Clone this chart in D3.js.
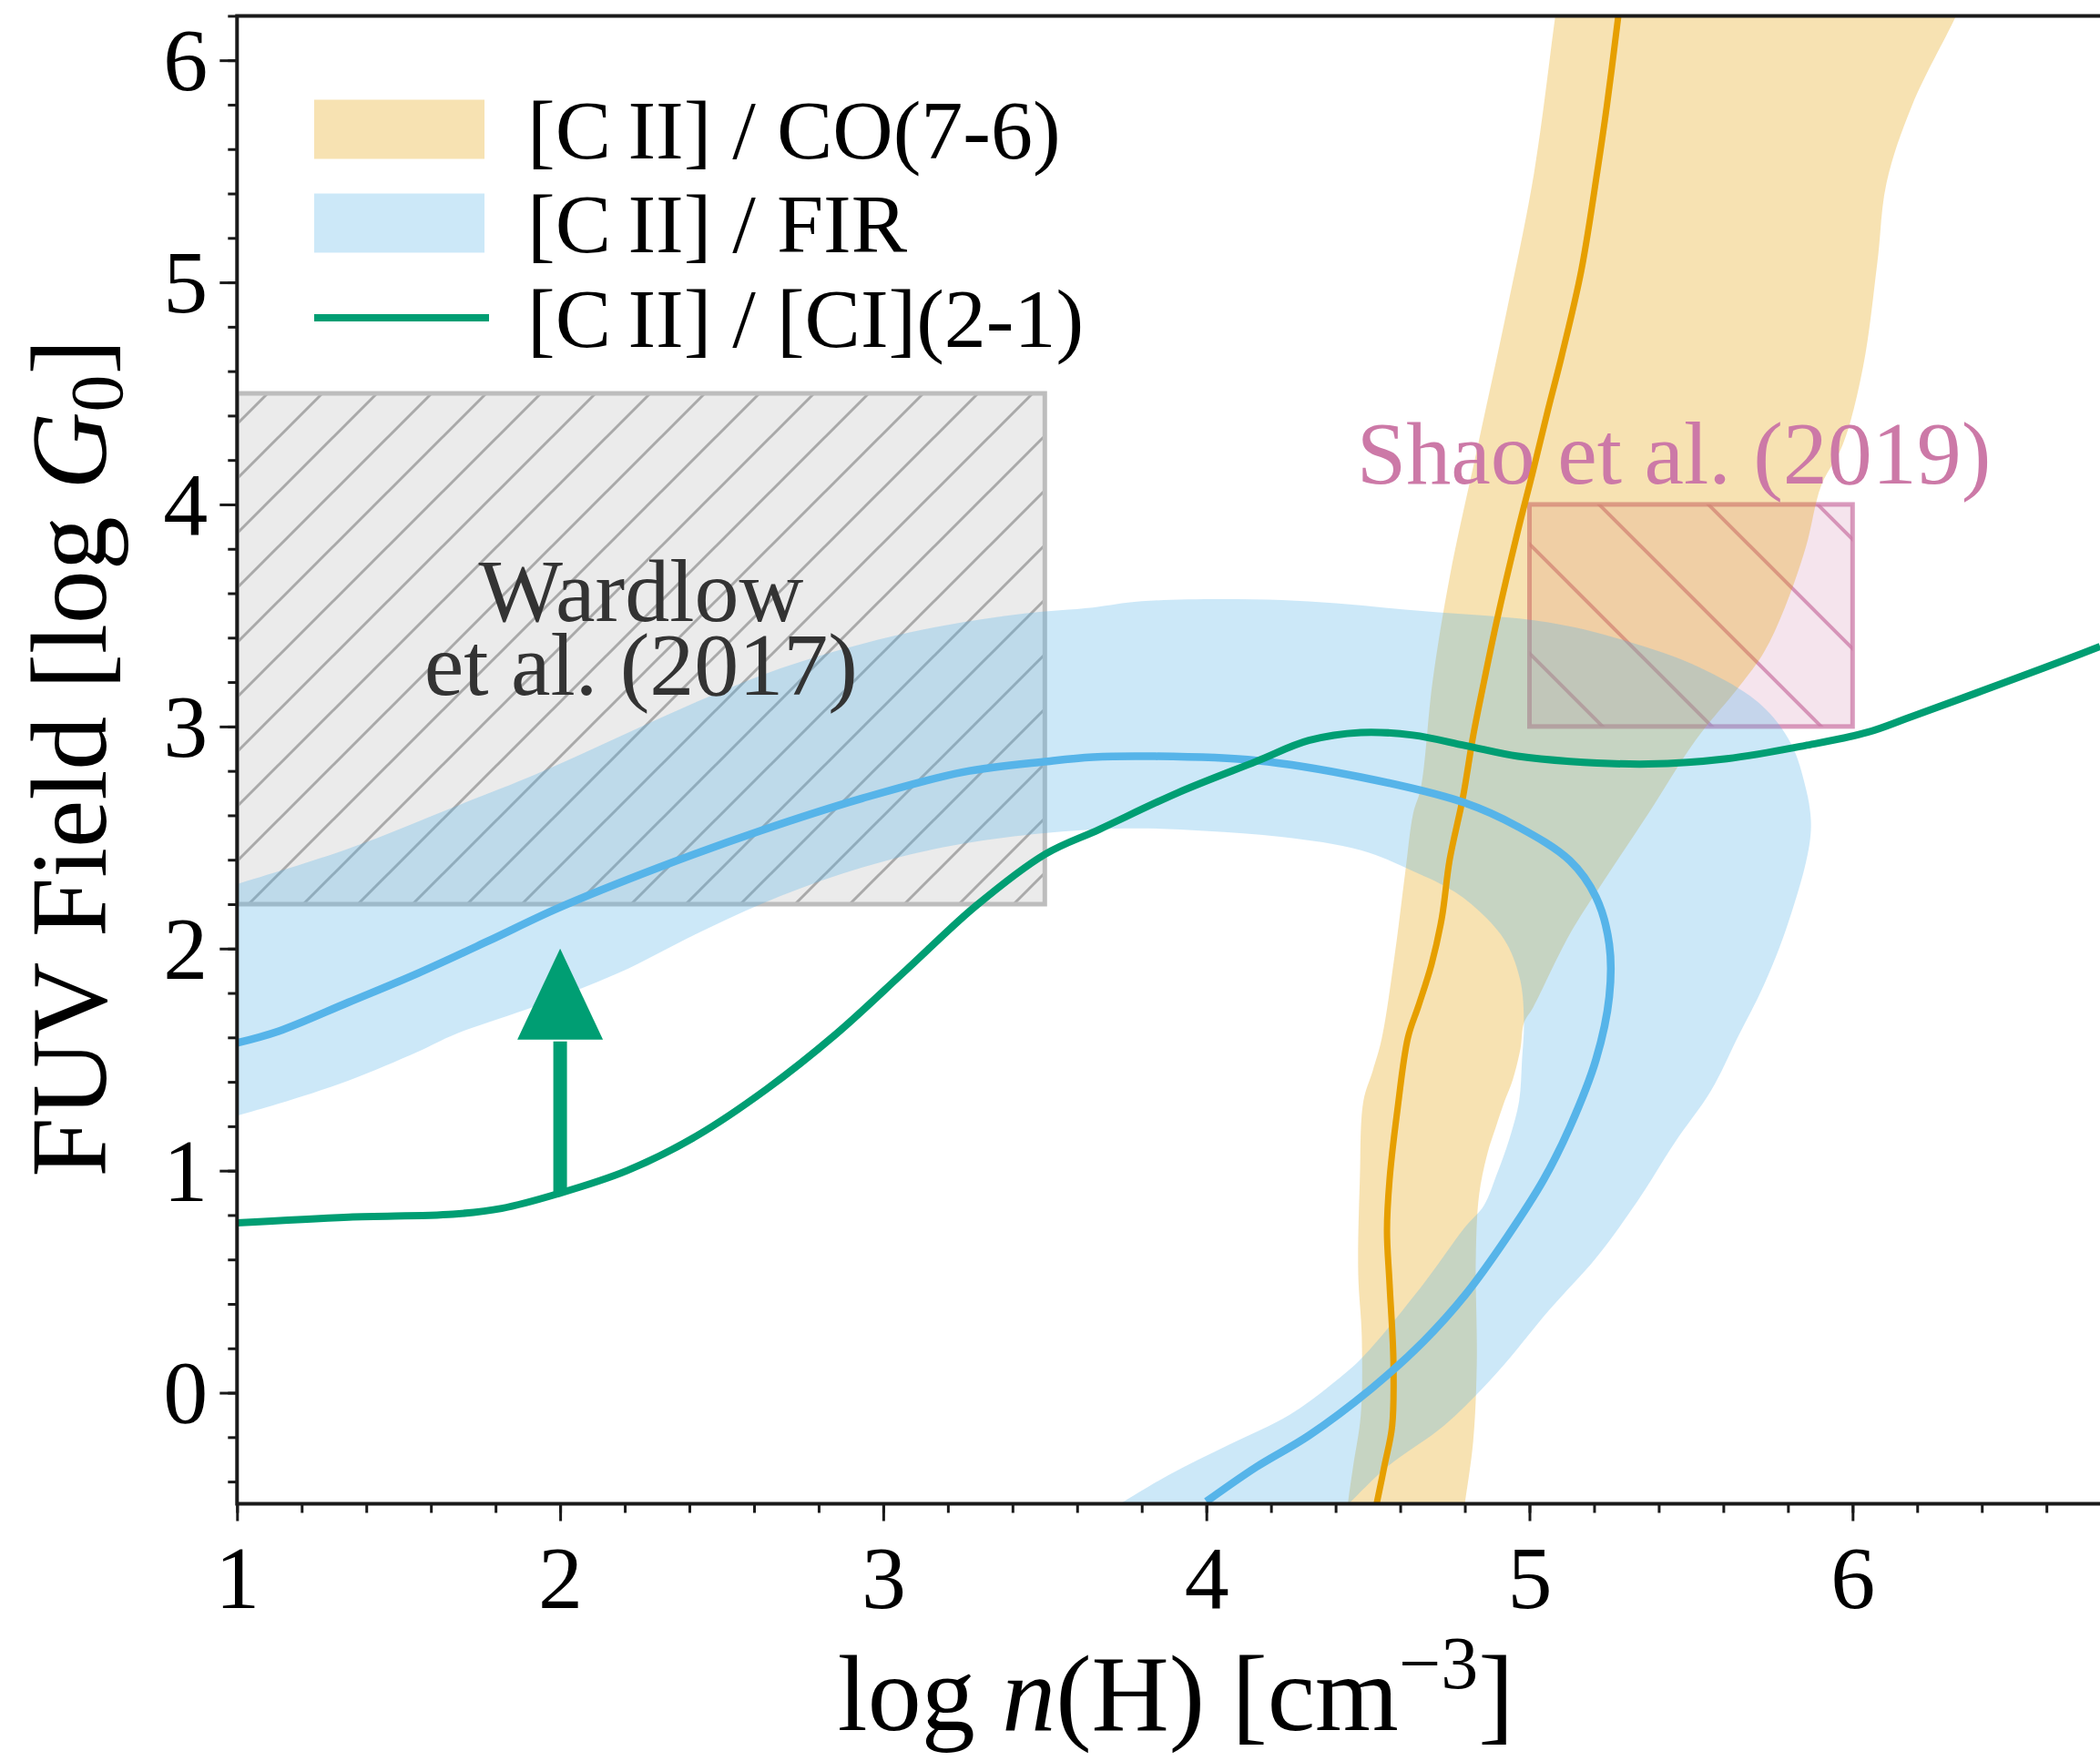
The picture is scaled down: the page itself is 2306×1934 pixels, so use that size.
<!DOCTYPE html>
<html>
<head>
<meta charset="utf-8">
<script src="https://cdn.jsdelivr.net/npm/d3@7"></script>
<style>
  html, body { margin: 0; padding: 0; background: #ffffff; }
  svg { display: block; }
  text { font-family: "Liberation Serif", "DejaVu Serif", serif; }
</style>
</head>
<body>
<div id="chart"></div>
<script>
// ---------------- DATA ----------------
// axis ranges and ticks
const xDomain = [1, 6.8];
const yDomain = [-0.5, 6.2];
const xTickValues = [1, 2, 3, 4, 5, 6];
const yTickValues = [0, 1, 2, 3, 4, 5, 6];

// [CII]/CO(7-6) band: left and right edge (x at given y); ends run just past the axes
const coLeftY  = [-0.6, -0.5, -0.334, -0.099, 0.254, 0.537, 0.960, 1.313, 1.45, 1.596, 1.972, 2.349, 2.608, 2.725, 3.20, 3.68, 4.27, 4.86, 5.49, 6.2, 6.4];
const coLeftX  = [4.432, 4.438, 4.454, 4.478, 4.481, 4.470, 4.475, 4.486, 4.515, 4.543, 4.583, 4.616, 4.640, 4.664, 4.700, 4.754, 4.841, 4.928, 5.014, 5.080, 5.100];
const coRightY = [-0.6, -0.5, -0.216, 0.137, 0.607, 0.890, 1.078, 1.196, 1.313, 1.408, 1.549, 1.666, 1.737, 2.066, 2.325, 2.608, 2.938, 3.182, 3.333, 3.538, 3.811, 4.085, 4.27, 4.623, 5.094, 5.447, 5.80, 6.2, 6.4];
const coRightX = [4.790, 4.800, 4.826, 4.837, 4.834, 4.844, 4.870, 4.896, 4.923, 4.948, 4.972, 4.983, 5.012, 5.125, 5.239, 5.368, 5.514, 5.650, 5.725, 5.791, 5.856, 5.903, 5.970, 6.033, 6.077, 6.105, 6.185, 6.320, 6.380];
// [CII]/CO(7-6) central curve
const coLineY = [-0.6, -0.5, -0.33, -0.15, 0.14, 0.49, 0.73, 0.96, 1.27, 1.60, 1.74, 1.93, 2.14, 2.40, 2.68, 2.96, 3.20, 3.47, 3.88, 4.15, 4.43, 4.67, 5.05, 5.50, 5.80, 6.2, 6.3];
const coLineX = [4.512, 4.527, 4.551, 4.575, 4.579, 4.567, 4.559, 4.567, 4.591, 4.624, 4.656, 4.697, 4.729, 4.753, 4.794, 4.826, 4.859, 4.898, 4.964, 5.011, 5.058, 5.100, 5.160, 5.210, 5.240, 5.275, 5.283];

// [CII]/FIR band: outer and inner boundaries
const firOuterX = [0.9, 1.0, 1.345, 1.676, 1.927, 2.179, 2.431, 2.682, 2.934, 3.185, 3.437, 3.649, 3.80, 4.234, 4.667, 5.058, 5.293, 5.528, 5.715, 5.81, 5.856, 5.870, 5.870, 5.853, 5.789, 5.724, 5.643, 5.562, 5.449, 5.336, 5.206, 5.061, 4.899, 4.737, 4.559, 4.44, 4.38];
const firOuterY = [2.245, 2.29, 2.45, 2.64, 2.786, 2.951, 3.116, 3.262, 3.372, 3.454, 3.509, 3.536, 3.564, 3.569, 3.520, 3.469, 3.388, 3.265, 3.10, 2.922, 2.718, 2.60, 2.512, 2.372, 2.066, 1.831, 1.596, 1.360, 1.125, 0.866, 0.607, 0.372, 0.089, -0.146, -0.334, -0.5, -0.58];
const firInnerX = [0.9, 1.0, 1.129, 1.345, 1.56, 1.676, 1.927, 2.179, 2.431, 2.682, 2.934, 3.185, 3.437, 3.75, 3.993, 4.236, 4.478, 4.64, 4.769, 4.867, 4.931, 4.972, 4.983, 4.977, 4.968, 4.939, 4.899, 4.859, 4.802, 4.672, 4.485, 4.40, 4.259, 4.071, 3.883, 3.733, 3.66];
const firInnerY = [1.21, 1.248, 1.302, 1.406, 1.536, 1.615, 1.743, 1.889, 2.073, 2.237, 2.365, 2.456, 2.511, 2.541, 2.530, 2.502, 2.443, 2.349, 2.255, 2.137, 2.019, 1.854, 1.666, 1.501, 1.313, 1.148, 0.984, 0.843, 0.748, 0.49, 0.162, 0.052, -0.098, -0.234, -0.371, -0.5, -0.56];
// [CII]/FIR central curve
const firLineX = [1.0, 1.129, 1.345, 1.56, 1.776, 1.99, 2.305, 2.619, 2.934, 3.248, 3.508, 3.649, 3.831, 4.155, 4.478, 4.802, 4.964, 5.125, 5.206, 5.247, 5.247, 5.206, 5.125, 5.044, 4.931, 4.802, 4.672, 4.511, 4.317, 4.155, 4.0];
const firLineY = [1.575, 1.628, 1.758, 1.889, 2.033, 2.18, 2.365, 2.53, 2.676, 2.795, 2.843, 2.862, 2.866, 2.847, 2.772, 2.655, 2.549, 2.396, 2.231, 2.019, 1.784, 1.501, 1.196, 0.96, 0.702, 0.442, 0.231, 0.019, -0.193, -0.334, -0.49];

// [CII]/[CI](2-1) curve
const ciLineX = [1.0, 1.345, 1.668, 1.819, 1.991, 2.207, 2.423, 2.638, 2.854, 3.07, 3.285, 3.501, 3.669, 3.912, 4.155, 4.317, 4.478, 4.64, 4.802, 4.964, 5.125, 5.368, 5.611, 5.853, 6.044, 6.185, 6.467, 6.766];
const ciLineY = [0.765, 0.791, 0.804, 0.830, 0.895, 1.0, 1.157, 1.366, 1.615, 1.902, 2.19, 2.425, 2.537, 2.702, 2.843, 2.937, 2.973, 2.961, 2.914, 2.866, 2.843, 2.831, 2.855, 2.914, 2.973, 3.046, 3.196, 3.36];

// lower-limit arrow at log n = 2
const arrowX = 2.0, arrowFrom = 0.9, arrowHeadBase = 1.59, arrowTo = 2.0;

// literature boxes [x0, x1, y0, y1]
const wardlowBox = [1.0, 3.5, 2.2, 4.5];
const shaoBox = [5.0, 6.0, 3.0, 4.0];
const wardlowLabel = ["Wardlow", "et al. (2017)"];
const wardlowLabelPos = [2.25, 3.475, 3.145];
const shaoLabel = "Shao et al. (2019)";
const shaoLabelPos = [5.447, 4.094];

const legendLabels = ["[C\u2009II] / CO(7-6)", "[C\u2009II] / FIR", "[C\u2009II] / [CI](2-1)"];

// ---------------- STYLE ----------------
const W = 2306, H = 1934;
const cOrange = "#E69F00", cBlue = "#56B4E9", cGreen = "#009E73", cPink = "#CC79A7";

const x = d3.scaleLinear().domain(xDomain).range([260.3, 260.3 + 5.8 * 354.8]);
const y = d3.scaleLinear().domain(yDomain).range([1651.5, 17.4]);

const svg = d3.select("#chart").append("svg").attr("width", W).attr("height", H);
svg.append("rect").attr("width", W).attr("height", H).attr("fill", "#fff");

const defs = svg.append("defs");
defs.append("clipPath").attr("id", "plotclip").append("rect")
  .attr("x", x(xDomain[0])).attr("y", y(yDomain[1]))
  .attr("width", x(xDomain[1]) - x(xDomain[0])).attr("height", y(yDomain[0]) - y(yDomain[1]));

// hatch patterns
const pw = defs.append("pattern").attr("id", "hatchW").attr("patternUnits", "userSpaceOnUse")
  .attr("width", 60).attr("height", 60).attr("x", 6);
pw.append("path").attr("d", "M-15,15 L15,-15 M0,60 L60,0 M45,75 L75,45")
  .attr("stroke", "#a9a9a9").attr("stroke-width", 3).attr("fill", "none");
const ps = defs.append("pattern").attr("id", "hatchS").attr("patternUnits", "userSpaceOnUse")
  .attr("width", 120).attr("height", 120).attr("x", 2);
ps.append("path").attr("d", "M-30,90 L30,150 M0,0 L120,120 M90,-30 L150,30")
  .attr("stroke", cPink).attr("stroke-opacity", 0.75).attr("stroke-width", 4).attr("fill", "none");

const plot = svg.append("g").attr("clip-path", "url(#plotclip)");

function boxRect(g, b) {
  return g.append("rect").attr("x", x(b[0])).attr("y", y(b[3]))
    .attr("width", x(b[1]) - x(b[0])).attr("height", y(b[2]) - y(b[3]));
}
// Shao box (below bands)
boxRect(plot, shaoBox).attr("fill", cPink).attr("fill-opacity", 0.2);
boxRect(plot, shaoBox).attr("fill", "url(#hatchS)");
boxRect(plot, shaoBox).attr("fill", "none").attr("stroke", cPink).attr("stroke-opacity", 0.75).attr("stroke-width", 5);

// Wardlow box
boxRect(plot, wardlowBox).attr("fill", "#ebebeb");
boxRect(plot, wardlowBox).attr("fill", "url(#hatchW)");
boxRect(plot, wardlowBox).attr("fill", "none").attr("stroke", "#bdbdbd").attr("stroke-width", 5);

// bands
const lineXY = d3.line().x(d => x(d[0])).y(d => y(d[1])).curve(d3.curveCatmullRom.alpha(0.5));
const coPoly = coLeftY.map((v, i) => [coLeftX[i], v])
  .concat(coRightY.map((v, i) => [coRightX[i], v]).reverse());
plot.append("path").attr("d", lineXY(coPoly) + "Z").attr("fill", cOrange).attr("fill-opacity", 0.3);

const firPoly = firOuterX.map((v, i) => [v, firOuterY[i]])
  .concat(firInnerX.map((v, i) => [v, firInnerY[i]]).reverse());
plot.append("path").attr("d", lineXY(firPoly) + "Z").attr("fill", cBlue).attr("fill-opacity", 0.3);

// annotation texts
const wt = plot.append("text").attr("text-anchor", "middle").attr("fill", "#333333").attr("font-size", 98);
wt.append("tspan").attr("x", x(wardlowLabelPos[0])).attr("y", y(wardlowLabelPos[1])).text(wardlowLabel[0]);
wt.append("tspan").attr("x", x(wardlowLabelPos[0])).attr("y", y(wardlowLabelPos[2])).text(wardlowLabel[1]);
plot.append("text").attr("text-anchor", "middle").attr("fill", cPink).attr("font-size", 98)
  .attr("x", x(shaoLabelPos[0])).attr("y", y(shaoLabelPos[1])).text(shaoLabel);

// lines
plot.append("path").attr("d", lineXY(coLineY.map((v, i) => [coLineX[i], v])))
  .attr("fill", "none").attr("stroke", cOrange).attr("stroke-width", 7);
plot.append("path").attr("d", lineXY(firLineX.map((v, i) => [v, firLineY[i]])))
  .attr("fill", "none").attr("stroke", cBlue).attr("stroke-width", 8.5);
plot.append("path").attr("d", lineXY(ciLineX.map((v, i) => [v, ciLineY[i]])))
  .attr("fill", "none").attr("stroke", cGreen).attr("stroke-width", 8);

// arrow
plot.append("line").attr("x1", x(arrowX)).attr("x2", x(arrowX))
  .attr("y1", y(arrowFrom)).attr("y2", y(arrowHeadBase) + 2)
  .attr("stroke", cGreen).attr("stroke-width", 15);
plot.append("path")
  .attr("d", `M${x(arrowX) - 47},${y(arrowHeadBase)} L${x(arrowX) + 47},${y(arrowHeadBase)} L${x(arrowX)},${y(arrowTo)} Z`)
  .attr("fill", cGreen);

// axes
const axisColor = "#1a1a1a";
const xMinor = d3.range(1, 6.81, 0.2).map(v => +v.toFixed(2));
const yMinor = d3.range(-0.4, 6.21, 0.2).map(v => +v.toFixed(2));
const xAxisMinor = d3.axisBottom(x).tickValues(xMinor).tickSize(10).tickFormat("");
const xAxisMajor = d3.axisBottom(x).tickValues(xTickValues).tickSize(19).tickFormat(d3.format("d"));
const yAxisMinor = d3.axisLeft(y).tickValues(yMinor).tickSize(10).tickFormat("");
const yAxisMajor = d3.axisLeft(y).tickValues(yTickValues).tickSize(19).tickFormat(d3.format("d"));

function styleAxis(g) {
  g.select(".domain").remove();
  g.selectAll(".tick line").attr("stroke", axisColor).attr("stroke-width", 3);
  g.selectAll("text").attr("font-family", "Liberation Serif").attr("font-size", 98).attr("fill", "#000");
}
svg.append("g").attr("transform", `translate(0,${y(yDomain[0])})`).call(xAxisMinor).call(styleAxis);
const gx = svg.append("g").attr("transform", `translate(0,${y(yDomain[0])})`).call(xAxisMajor).call(styleAxis);
gx.selectAll("text").attr("dy", null).attr("y", 114);
svg.append("g").attr("transform", `translate(${x(xDomain[0])},0)`).call(yAxisMinor).call(styleAxis);
const gy = svg.append("g").attr("transform", `translate(${x(xDomain[0])},0)`).call(yAxisMajor).call(styleAxis);
gy.selectAll("text").attr("dy", "0.33em").attr("x", -32);

// spines
const x0 = x(xDomain[0]), x1 = x(xDomain[1]), yT = y(yDomain[1]), yB = y(yDomain[0]);
svg.append("path").attr("d", `M${x0},${yB} L${x0},${yT} L${x1},${yT} L${x1},${yB} Z`)
  .attr("fill", "none").attr("stroke", axisColor).attr("stroke-width", 4);

// axis labels
const xl = svg.append("text").attr("text-anchor", "middle").attr("font-size", 118)
  .attr("x", (x0 + Math.min(x1, W)) / 2 + 8).attr("y", 1900);
xl.append("tspan").text("log ");
xl.append("tspan").attr("font-style", "italic").text("n");
xl.append("tspan").text("(H) [cm");
xl.append("tspan").attr("font-size", 82).attr("dy", -46).text("\u22123");
xl.append("tspan").attr("dy", 46).text("]");

const yl = svg.append("text").attr("text-anchor", "middle").attr("font-size", 118)
  .attr("transform", `translate(116,${(yT + yB) / 2 - 2}) rotate(-90)`);
yl.append("tspan").text("FUV Field [log ");
yl.append("tspan").attr("font-style", "italic").text("G");
yl.append("tspan").attr("font-size", 82).attr("dy", 18).text("0");
yl.append("tspan").attr("dy", -18).text("]");

// legend
const lg = svg.append("g");
const legY = [141.5, 244.5, 349];
lg.append("rect").attr("x", 345).attr("y", legY[0] - 32).attr("width", 187).attr("height", 65)
  .attr("fill", cOrange).attr("fill-opacity", 0.3);
lg.append("rect").attr("x", 345).attr("y", legY[1] - 32).attr("width", 187).attr("height", 65)
  .attr("fill", cBlue).attr("fill-opacity", 0.3);
lg.append("line").attr("x1", 345).attr("x2", 537).attr("y1", legY[2]).attr("y2", legY[2])
  .attr("stroke", cGreen).attr("stroke-width", 8);
legendLabels.forEach((t, i) => {
  lg.append("text").attr("x", 579).attr("y", legY[i] + 32).attr("font-size", 92).attr("fill", "#000").text(t);
});
</script>
</body>
</html>
